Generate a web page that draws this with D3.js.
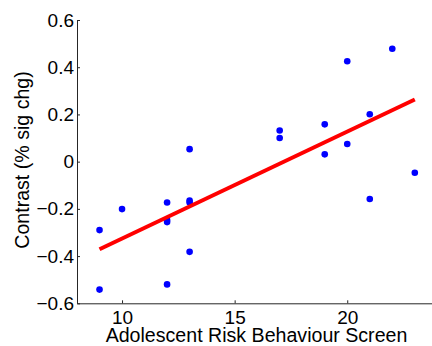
<!DOCTYPE html>
<html><head><meta charset="utf-8">
<script src="https://cdn.jsdelivr.net/npm/d3@7"></script>
<style>body{margin:0;background:#fff}svg{display:block}text{font-family:"Liberation Sans",Arial,sans-serif;fill:#000}</style>
</head><body>
<svg id="c" width="432" height="346"></svg>
<script>
const xVals = [9, 9, 10, 12, 12, 12, 12, 13, 13, 13, 13, 17, 17, 19, 19, 20, 20, 21, 21, 22, 23];
const yVals = [-0.29, -0.542, -0.201, -0.173, -0.247, -0.256, -0.52, -0.165, -0.173, -0.382, 0.053, 0.132, 0.1, 0.158, 0.031, 0.425, 0.075, 0.201, -0.158, 0.478, -0.047];
const fitX = [9, 23];
const fitY = [-0.371, 0.263];
const xTicks = [10, 15, 20];
const yTicks = [-0.6, -0.4, -0.2, 0, 0.2, 0.4, 0.6];
const xLabel = "Adolescent Risk Behaviour Screen";
const yLabel = "Contrast (% sig chg)";

const svg = d3.select("#c");
const L = 77, R = 431.7, T = 20, B = 303.3;
const x = d3.scaleLinear().domain([8, 23.75]).range([L, R]);
const y = d3.scaleLinear().domain([-0.6, 0.6]).range([B, T]);

const fmtY = d => d === 0 ? "0" : d3.format(".1f")(d).replace("-", "\u2212");

const gx = svg.append("g").attr("transform", `translate(0,${B})`)
  .call(d3.axisBottom(x).tickValues(xTicks).tickSizeInner(-3).tickSizeOuter(0).tickPadding(7).tickFormat(d3.format("d")));
const gy = svg.append("g").attr("transform", `translate(${L},0)`)
  .call(d3.axisLeft(y).tickValues(yTicks).tickSizeInner(-3).tickSizeOuter(0).tickPadding(3).tickFormat(fmtY));
[gx, gy].forEach(g => {
  g.select(".domain").attr("stroke", "#262626").attr("stroke-width", 1);
  g.selectAll(".tick line").attr("stroke", "#262626");
  g.selectAll(".tick text").attr("font-size", 19).attr("fill", "#000").attr("font-family", '"Liberation Sans",Arial,sans-serif');
});

svg.append("g").selectAll("circle").data(xVals.map((v, i) => [v, yVals[i]])).join("circle")
  .attr("cx", d => x(d[0])).attr("cy", d => y(d[1])).attr("r", 3.3).attr("fill", "#0000ff");

svg.append("path").datum(fitX.map((v, i) => [v, fitY[i]]))
  .attr("d", d3.line().x(d => x(d[0])).y(d => y(d[1])))
  .attr("stroke", "#ff0000").attr("stroke-width", 4).attr("fill", "none");

svg.append("text").attr("x", 256.5).attr("y", 341.7).attr("text-anchor", "middle").attr("font-size", 19.6).text(xLabel);
svg.append("text").attr("transform", "translate(28.5,160) rotate(-90)").attr("text-anchor", "middle").attr("font-size", 19.6).text(yLabel);
</script>
</body></html>
